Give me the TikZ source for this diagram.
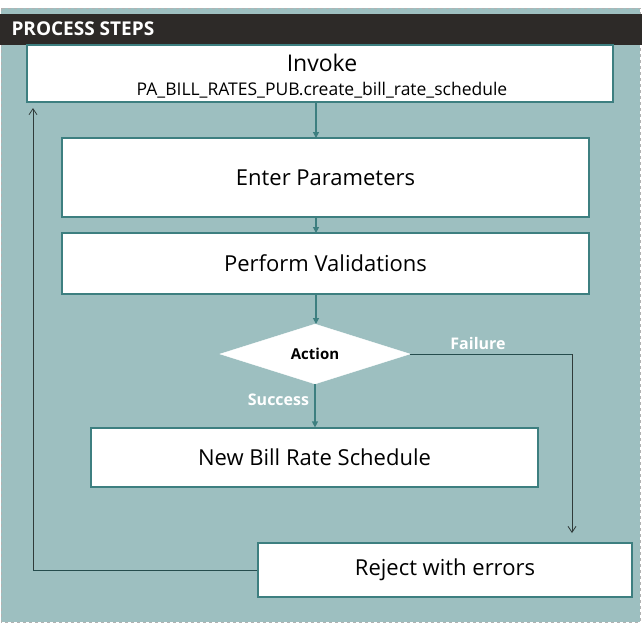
\documentclass[tikz,border=0pt]{standalone}
\usepackage{fontspec}
\setmainfont{Open Sans}
\usetikzlibrary{positioning,arrows.meta,shapes.geometric}
\definecolor{bgteal}{HTML}{9DBFC0}
\definecolor{edgeteal}{HTML}{3D7F80}
\definecolor{headdark}{HTML}{2D2A28}
\tikzset{
  procbox/.style={draw=edgeteal,line width=1.2pt,fill=white,inner sep=0pt,font=\fontsize{22}{24}\selectfont},
  flow/.style={draw=edgeteal,line width=1.2pt,-{Triangle[length=6pt,width=6pt]}},
  back/.style={draw=headdark!80!edgeteal,line width=0.8pt,-{Straight Barb[length=6pt,width=8pt]}},
  lbl/.style={text=white,font=\bfseries\fontsize{16}{18}\selectfont}
}
\begin{document}
\begin{tikzpicture}[x=1pt,y=-1pt]
  \useasboundingbox (0,0) rectangle (642,625);
  % background panel and title bar
  \draw[gray!60,dashed,fill=bgteal] (1,8) rectangle (640,622);
  \fill[headdark] (0,14) rectangle (642,45);
  \node[anchor=west,text=white,font=\bfseries\fontsize{19}{21}\selectfont] (ntitle) at (8,29) {PROCESS STEPS};
  % steps
  \node[procbox,minimum width=586pt,minimum height=57pt] (ninvoke) at (320,73.5) {};
  \node[font=\fontsize{23}{25}\selectfont] at (322,63) {Invoke};
  \node[font=\fontsize{17.5}{19}\selectfont] at (322,90) {PA\_BILL\_RATES\_PUB.create\_bill\_rate\_schedule};
  \node[procbox,minimum width=527pt,minimum height=79pt] (nenter) at (325.5,177.5) {Enter Parameters};
  \node[procbox,minimum width=527pt,minimum height=61pt] (nvalid) at (325.5,263.5) {Perform Validations};
  \node[diamond,draw=white,fill=white,inner sep=0pt,minimum width=190pt,minimum height=60pt,
        font=\bfseries\fontsize{15}{17}\selectfont] (naction) at (315,354) {Action};
  \node[procbox,minimum width=447pt,minimum height=59pt] (nnew) at (314.5,457.5) {New Bill Rate Schedule};
  \node[procbox,minimum width=374pt,minimum height=54pt] (nreject) at (445,570) {Reject with errors};
  \coordinate (nfail) at (572,354);
  \coordinate (nfailend) at (572,533);
  \coordinate (nleft) at (33,570);
  \coordinate (nleftend) at (33,108);
  % connectors
  \draw[flow] (316,102) -- (316,138);
  \draw[flow] (316,217) -- (316,233);
  \draw[flow] (316,294) -- (316,324);
  \draw[flow] (naction.south) -- node[lbl,left=2pt,pos=0.35] {Success} (naction.south |- nnew.north);
  \draw[edgeteal!60!black,line width=0.8pt] (naction.east) -- (nfail);
  \draw[back] (nfail) -- (nfailend);
  \node[lbl] at (478,343) {Failure};
  \draw[edgeteal!60!black,line width=0.8pt] (nreject.west) -- (nleft);
  \draw[back] (nleft) -- (nleftend);
\end{tikzpicture}
\end{document}
